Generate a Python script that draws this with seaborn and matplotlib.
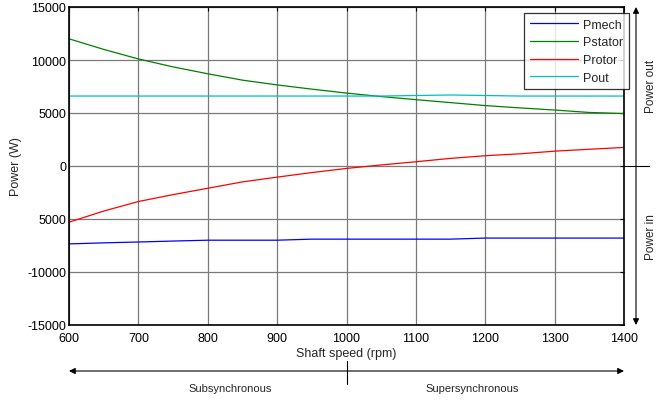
import matplotlib
matplotlib.use("Agg")
import matplotlib.pyplot as plt
import seaborn as sns
import pandas as pd

# Shaft speed (rpm) and power flows (W)
speed = [600, 650, 700, 750, 800, 850, 900, 950, 1000, 1050, 1100, 1150, 1200, 1250, 1300, 1350, 1400]
p_mech = [-7350, -7250, -7170, -7080, -7000, -7000, -7000, -6900, -6900, -6900, -6900, -6900,
          -6800, -6800, -6800, -6800, -6800]
p_stator = [12000, 11000, 10100, 9350, 8700, 8100, 7650, 7250, 6880, 6550, 6260, 5980,
            5700, 5480, 5280, 5050, 4950]
p_rotor = [-5300, -4250, -3350, -2700, -2100, -1500, -1050, -620, -230, 100, 400, 720,
           970, 1150, 1400, 1580, 1750]
p_out = [6600, 6600, 6600, 6600, 6600, 6600, 6600, 6600, 6600, 6600, 6650, 6700,
         6650, 6600, 6600, 6600, 6600]

series_names = ["Pmech", "Pstator", "Protor", "Pout"]
colors = ["#0000ff", "#008000", "#ff0000", "#00bfbf"]
x_ticks = [600, 700, 800, 900, 1000, 1100, 1200, 1300, 1400]
y_ticks = [-15000, -10000, -5000, 0, 5000, 10000, 15000]
y_tick_labels = ["-15000", "-10000", "5000", "0", "5000", "10000", "15000"]

df = pd.DataFrame({
    "speed": speed * 4,
    "power": p_mech + p_stator + p_rotor + p_out,
    "series": sum([[n] * len(speed) for n in series_names], []),
})

sns.set_style("white")
plt.rcParams["font.family"] = ["Liberation Sans", "DejaVu Sans"]
plt.rcParams["font.size"] = 9

fig = plt.figure(figsize=(6.56, 4.02), dpi=100)
ax = fig.add_axes([69 / 656, 1 - 326 / 402, 555 / 656, 318 / 402])

sns.lineplot(data=df, x="speed", y="power", hue="series", hue_order=series_names,
             palette=colors, linewidth=0.9, ax=ax, legend=True)

ax.set_xlim(600, 1400)
ax.set_ylim(-15000, 15000)
ax.set_xticks(x_ticks)
ax.set_yticks(y_ticks)
ax.set_yticklabels(y_tick_labels)
ax.grid(True, color="#7a7a7a", linewidth=0.9)
ax.set_axisbelow(True)
ax.tick_params(direction="in", length=3, width=0.8, top=True, right=True,
               labelsize=9, colors="black")
ax.tick_params(axis="x", pad=5)
ax.tick_params(axis="y", pad=2)
for s in ax.spines.values():
    s.set_color("black")
    s.set_linewidth(1.2)
ax.set_xlabel("Shaft speed (rpm)", fontsize=9, labelpad=2)
ax.set_ylabel("Power (W)", fontsize=9, labelpad=4)

leg = ax.legend(loc="upper right", bbox_to_anchor=((629 - 69) / 555, 0.981), frameon=True,
                fancybox=False, edgecolor="black", fontsize=9, handlelength=3.9,
                handletextpad=0.4, borderpad=0.45, labelspacing=0.45, borderaxespad=0)
leg.get_frame().set_linewidth(0.9)
for line in leg.get_lines():
    line.set_linewidth(0.9)

H = 402.0
W = 656.0

def fp(x, y):
    return (x / W, 1 - y / H)

arrow = dict(arrowstyle="<|-|>", color="black", lw=0.8, mutation_scale=9,
             shrinkA=0, shrinkB=0)
# Power direction arrow on the right
ax.annotate("", xy=fp(636, 8), xytext=fp(636, 326), xycoords="figure fraction",
            textcoords="figure fraction", arrowprops=arrow, annotation_clip=False)
fig.add_artist(plt.Line2D([623 / W, 649 / W], [1 - 167 / H, 1 - 167 / H],
                          color="black", lw=0.8, transform=fig.transFigure))
fig.text(651 / W, 1 - 86 / H, "Power out", rotation=90, ha="center", va="center", fontsize=8.5)
fig.text(651 / W, 1 - 237 / H, "Power in", rotation=90, ha="center", va="center", fontsize=8.5)

# Speed region arrow at the bottom
ax.annotate("", xy=fp(69, 372), xytext=fp(624, 372), xycoords="figure fraction",
            textcoords="figure fraction", arrowprops=arrow, annotation_clip=False)
fig.add_artist(plt.Line2D([347 / W, 347 / W], [1 - 362 / H, 1 - 385 / H],
                          color="black", lw=0.8, transform=fig.transFigure))
fig.text(230 / W, 1 - 389 / H, "Subsynchronous", ha="center", va="center", fontsize=8)
fig.text(472 / W, 1 - 389 / H, "Supersynchronous", ha="center", va="center", fontsize=8)

fig.savefig("out.png", dpi=100)
